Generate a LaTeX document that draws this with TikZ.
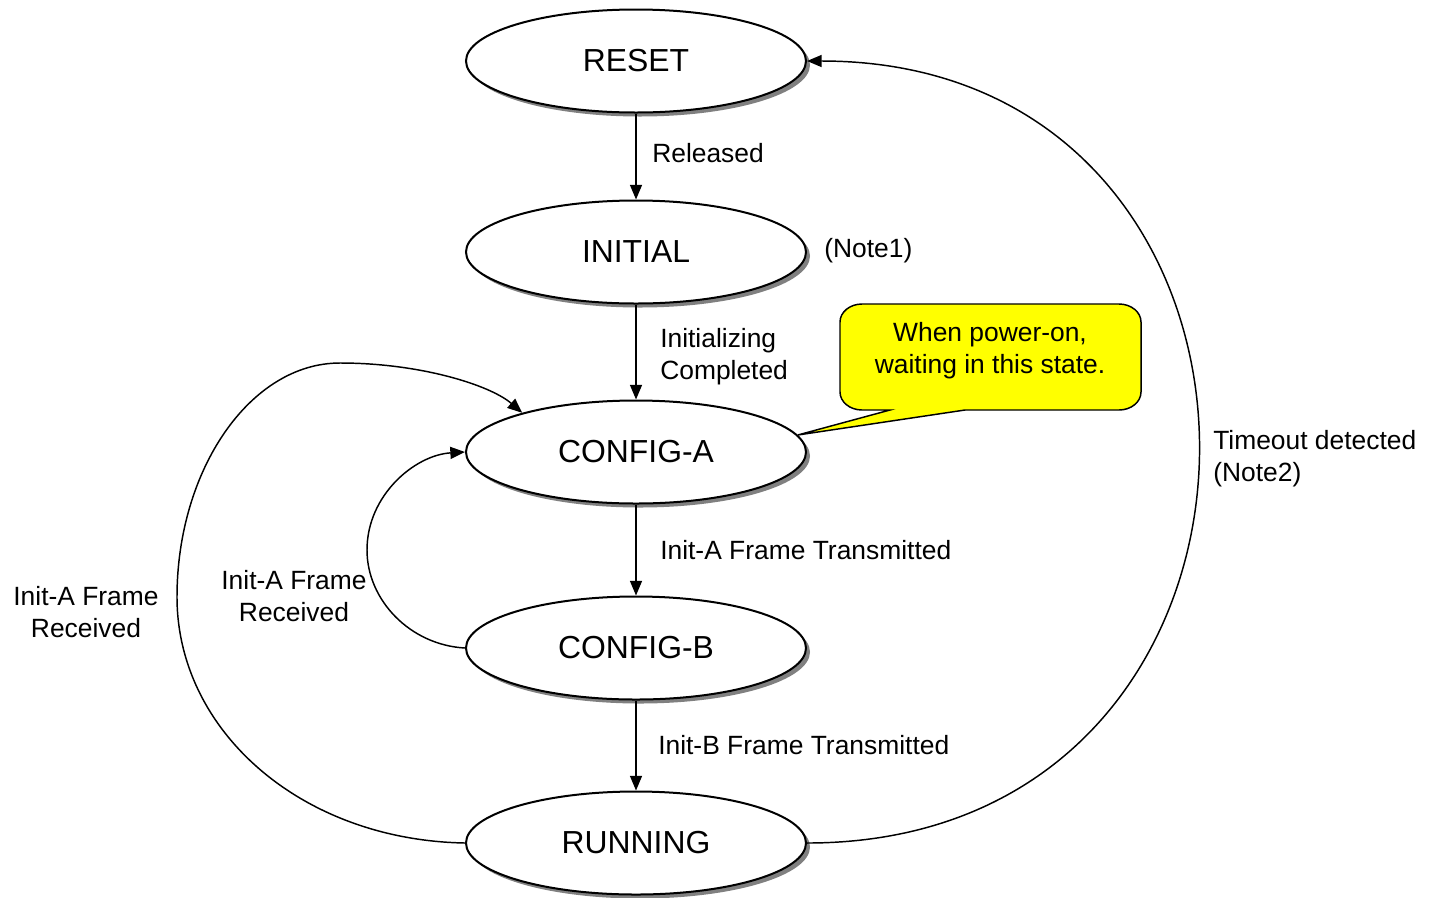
\documentclass[tikz,border=0pt]{standalone}
\usepackage{fontspec}
\setmainfont{Liberation Sans}
\usepackage{tikz}
\usetikzlibrary{shapes.geometric,arrows.meta}
\definecolor{shadowgray}{RGB}{128,128,128}
\definecolor{noteyellow}{RGB}{255,255,0}
\tikzset{
  state/.style={ellipse, draw, line width=1.5pt, fill=white, minimum width=255pt, minimum height=77.25pt, inner sep=0pt, font=\fontsize{23.9}{28}\selectfont},
  trans/.style={line width=1.1pt, -{Triangle[length=11pt,width=9pt]}},
  lbl/.style={inner sep=0pt, font=\fontsize{19.8}{24}\selectfont},
  corner/.style={x radius=22, y radius=18},
}

\begin{document}
\begin{tikzpicture}[x=0.75pt,y=0.75pt,yscale=-1,xscale=1]
\useasboundingbox (0,0) rectangle (1430,897);

%Shape: Ellipse shadows
\foreach \y in {61,252,452,648,843}
  \fill[shadowgray] (640,\y+4) ellipse (170 and 51.5);

%Shape: Ellipse states
\node (reset) [state] at (636,61) {RESET};
\node (initial) [state] at (636,252) {INITIAL};
\node (configa) [state] at (636,452) {CONFIG-A};
\node (configb) [state] at (636,648) {CONFIG-B};
\node (running) [state] at (636,843) {RUNNING};

%Straight Lines
\draw[trans] (reset) -- (initial);
\draw[trans] (initial) -- (configa);
\draw[trans] (configa) -- (configb);
\draw[trans] (configb) -- (running);

%Curve Lines
\draw[trans] (running.east) .. controls (1328,843) and (1328,61) .. (reset.east);
\draw[trans] (configb.west) .. controls (410,645) and (367,600) .. (367,550) .. controls (367,495) and (415,455) .. (configa.west);
\draw[trans] (running.west) .. controls (300,840) and (177,730) .. (177,597) .. controls (177,470) and (250,363) .. (340,363) .. controls (420,363) and (490,385) .. (configa.161);

%Shape: Callout
\draw[fill=noteyellow, line width=1.1pt] (862,304) -- (1119,304) arc[start angle=-90, end angle=0, corner]
  -- (1141,392) arc[start angle=0, end angle=90, corner]
  -- (965,410) -- (configa.6) -- (890,410)
  -- (862,410) arc[start angle=90, end angle=180, corner]
  -- (840,322) arc[start angle=180, end angle=270, corner] -- cycle;

% Text Node
\node (note) [lbl, align=center] at (990,351) {When power-on,\\waiting in this state.};
% Text Node
\node (released) [lbl, anchor=west] at (652,153) {Released};
% Text Node
\node (note1) [lbl, anchor=west] at (824,251) {(Note1)};
% Text Node
\node (initdone) [lbl, anchor=west, align=left] at (660,357) {Initializing\\Completed};
% Text Node
\node (atx) [lbl, anchor=west] at (660,550) {Init-A Frame Transmitted};
% Text Node
\node (btx) [lbl, anchor=west] at (658,745) {Init-B Frame Transmitted};
% Text Node
\node (timeout) [lbl, anchor=west, align=left] at (1213,459) {Timeout detected\\(Note2)};
% Text Node
\node (arxouter) [lbl, align=center] at (86,612) {Init-A Frame\\Received};
% Text Node
\node (arxinner) [lbl, align=center] at (294,596) {Init-A Frame\\Received};

\end{tikzpicture}
\end{document}
